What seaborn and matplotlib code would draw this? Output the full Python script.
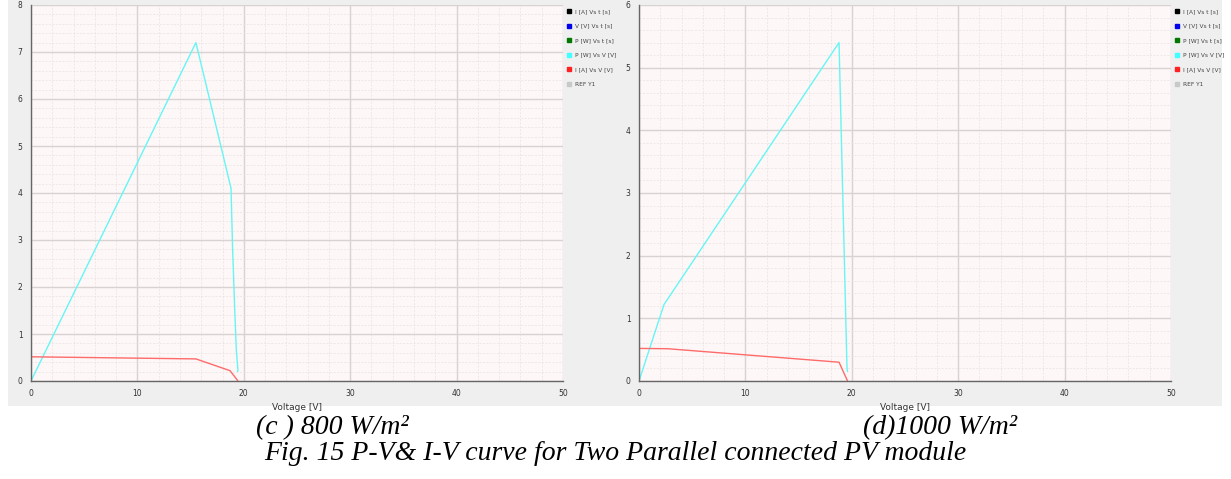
import numpy as np
import pandas as pd
import matplotlib
matplotlib.use('Agg')
import matplotlib.pyplot as plt
from matplotlib.lines import Line2D
from matplotlib.patches import Rectangle
from matplotlib.ticker import MultipleLocator
import seaborn as sns

sns.set_style('white')
plt.rcParams['font.family'] = ['DejaVu Sans']

# (c) 800 W/m2
pv_v_800 = [0, 15.5, 18.8, 18.95, 19.15, 19.3, 19.45, 19.4]
pv_p_800 = [0, 7.2, 4.1, 2.8, 1.5, 0.65, 0.22, 0.2]
iv_v_800 = [0, 15.5, 18.7, 19.05, 19.45]
iv_i_800 = [0.515, 0.47, 0.22, 0.12, 0.0]

# (d) 1000 W/m2
pv_v_1000 = [0, 2.35, 18.8, 19.55, 19.6]
pv_p_1000 = [0, 1.22, 5.4, 0.2, 0.15]
iv_v_1000 = [0, 2.7, 18.8, 19.6]
iv_i_1000 = [0.52, 0.515, 0.3, 0.0]

legend_labels = ['I [A] Vs t [s]', 'V [V] Vs t [s]', 'P [W] Vs t [s]',
                 'P [W] Vs V [V]', 'I [A] Vs V [V]', 'REF Y1']
legend_colors = ['black', '#0000ee', '#007700', '#44ffff', '#ff2020', '#c8c8c8']

captions = ['(c ) 800 W/m²', '(d)1000 W/m²']
fig_title = 'Fig. 15 P-V& I-V curve for Two Parallel connected PV module'

W, H = 1231, 479
fig = plt.figure(figsize=(W / 100, H / 100), dpi=100, facecolor='white')
fig.patches.append(Rectangle((8 / W, (H - 406) / H), 1214 / W, 406 / H,
                             transform=fig.transFigure, facecolor='#efefef',
                             edgecolor='none', zorder=-5))

panels = [
    (31, 8, pv_v_800, pv_p_800, iv_v_800, iv_i_800),
    (639, 6, pv_v_1000, pv_p_1000, iv_v_1000, iv_i_1000),
]

for left_px, ymax, pv_v, pv_p, iv_v, iv_i in panels:
    ax = fig.add_axes([left_px / W, (H - 381) / H, 532 / W, 376 / H])
    ax.set_zorder(2)
    ax.set_facecolor('#fdf8f7')
    pv = pd.DataFrame({'V': pv_v, 'P': pv_p})
    iv = pd.DataFrame({'V': iv_v, 'I': iv_i})
    sns.lineplot(data=pv, x='V', y='P', ax=ax, sort=False, estimator=None,
                 color='#66f5f5', lw=1.0)
    sns.lineplot(data=iv, x='V', y='I', ax=ax, sort=False, estimator=None,
                 color='#ff6a6a', lw=1.0)
    ax.set_xlim(0, 50)
    ax.set_ylim(0, ymax)
    ax.xaxis.set_major_locator(MultipleLocator(10))
    ax.xaxis.set_minor_locator(MultipleLocator(2))
    ax.yaxis.set_major_locator(MultipleLocator(1))
    ax.yaxis.set_minor_locator(MultipleLocator(0.2))
    ax.grid(which='major', color='#d8d2d2', lw=1.0, ls='-')
    ax.grid(which='minor', color='#e8e2e2', lw=0.5, ls=(0, (3, 2)))
    ax.set_axisbelow(True)
    for s in ['top', 'right']:
        ax.spines[s].set_visible(False)
    for s in ['left', 'bottom']:
        ax.spines[s].set_color('#666666')
        ax.spines[s].set_linewidth(1.0)
    ax.tick_params(which='major', direction='out', length=4, width=0.8,
                   color='#666666', labelsize=5.5, labelcolor='#333333', pad=2)
    ax.tick_params(which='minor', direction='out', length=2, width=0.6,
                   color='#777777')
    ax.set_xlabel('Voltage [V]', fontsize=6.5, color='#333333', labelpad=3)
    ax.set_ylabel('')
    handles = [Line2D([], [], marker='s', ls='none', markersize=3.5,
                      markerfacecolor=c, markeredgecolor=c)
               for c in legend_colors]
    leg = ax.legend(handles, legend_labels, loc='upper left',
                    bbox_to_anchor=(1.0, 1.0), frameon=False, fontsize=4.2,
                    labelspacing=1.62, handlelength=0.5, handletextpad=0.9,
                    borderaxespad=0.3)
    for t in leg.get_texts():
        t.set_color('#444444')

cap_font = dict(family='Liberation Serif', style='italic', fontsize=20,
                color='black')
fig.text(332 / W, 1 - 428 / H, captions[0], ha='center', va='center', **cap_font)
fig.text(940 / W, 1 - 428 / H, captions[1], ha='center', va='center', **cap_font)
fig.text(615 / W, 1 - 453 / H, fig_title, ha='center', va='center', **cap_font)

fig.savefig('out.png', dpi=100, facecolor='white')
